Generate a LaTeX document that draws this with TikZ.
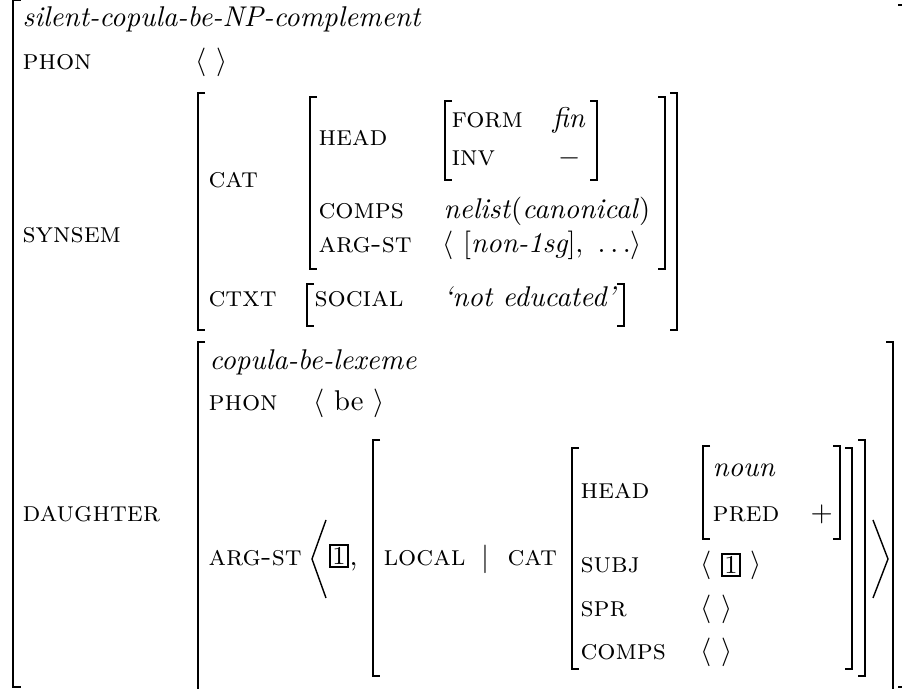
\documentclass[tikz,border=0pt]{standalone}
\usepackage{amsmath}
\tikzset{
  brk/.style={line width=0.6pt},
  lbl/.style={inner sep=0pt, anchor=base west},
  att/.style={lbl, font=\scshape},
  srt/.style={lbl, font=\itshape},
  val/.style={lbl},
  tagbox/.style={draw, line width=0.6pt, inner sep=0pt, minimum width=6.3pt, minimum height=7.6pt, font=\fontsize{9}{10}\selectfont},
}
\newcommand{\LBr}[4]{\draw[brk] (#1+#4,#2) -- (#1,#2) -- (#1,#3) -- (#1+#4,#3);}
\newcommand{\RBr}[4]{\draw[brk] (#1-#4,#2) -- (#1,#2) -- (#1,#3) -- (#1-#4,#3);}
\begin{document}
\begin{tikzpicture}[x=0.35pt,y=-0.35pt]
\useasboundingbox (0,0) rectangle (902,689);
% outer brackets
\LBr{13}{0}{687}{8}
\RBr{906}{5}{687}{8}
% top level
\node[srt] (sort0) at (22,27) {silent-copula-be-NP-complement};
\node[att] (phon0) at (22,70) {phon};
\node[val] (phonv0) at (195,70) {$\langle\ \rangle$};
\node[att] (synsem) at (22,243) {synsem};
% synsem matrix
\LBr{198}{93}{330}{7}
\RBr{677}{93}{330}{7}
\node[att] (cat0) at (208,188) {cat};
\LBr{310}{97}{269}{7}
\RBr{665}{97}{269}{7}
\node[att] (head0) at (318,146) {head};
\LBr{445}{101}{180}{7}
\RBr{597}{101}{180}{7}
\node[att] (form) at (451,128) {form};
\node[srt] (formv) at (552,128) {fin};
\node[att] (inv) at (451,166) {inv};
\node[val] (invv) at (558,166) {$-$};
\node[att] (comps0) at (318,219) {comps};
\node[val] (comps0v) at (443,219) {\textit{nelist}(\textit{canonical})};
\node[att] (argst0) at (318,253) {arg-st};
\node[val] (argst0v) at (442,253) {$\langle\ [\textit{non-1sg}],\ \ldots\rangle$};
\node[att] (ctxt) at (208,307) {ctxt};
\LBr{307}{284}{326}{7}
\RBr{624}{284}{326}{7}
\node[att] (social) at (314,307) {social};
\node[srt] (socialv) at (443,307) {`not educated'};
% daughter
\node[att] (dtr) at (22,522) {daughter};
\LBr{198}{342}{700}{7}
\RBr{893}{342}{700}{7}
\node[srt] (sort1) at (209,370) {copula-be-lexeme};
\node[att] (phon1) at (208,411) {phon};
\node[val] (phonv1) at (313,411) {$\langle\ \text{be}\ \rangle$};
\node[att] (argst1) at (208,566) {arg-st};
\draw[line width=0.5pt] (326,520) -- (312,559) -- (326,598);
\node[tagbox] (tag1) at (339,556) {1};
\node[val] (comma) at (349,566) {,};
\LBr{373}{440}{676}{7}
\RBr{865}{440}{676}{7}
\node[att] (local) at (383,566) {local};
\node[val] (bar) at (481,567) {$|$};
\node[att] (cat1) at (507,566) {cat};
\LBr{572}{448}{669}{7}
\RBr{852}{448}{669}{7}
\node[att] (head1) at (580,499) {head};
\LBr{703}{446}{539}{7}
\RBr{840}{446}{539}{7}
\node[srt] (noun) at (712,477) {noun};
\node[att] (pred) at (712,522) {pred};
\node[val] (predv) at (810,522) {$+$};
\node[att] (subj) at (580,573) {subj};
\node[val] (subjl) at (700,573) {$\langle$};
\node[tagbox] (tag2) at (731,565) {1};
\node[val] (subjr) at (750,573) {$\rangle$};
\node[att] (spr) at (580,617) {spr};
\node[val] (sprv) at (700,617) {$\langle\ \rangle$};
\node[att] (comps1) at (580,660) {comps};
\node[val] (comps1v) at (700,660) {$\langle\ \rangle$};
\draw[line width=0.5pt] (873,520) -- (888,559) -- (873,598);
\end{tikzpicture}
\end{document}
